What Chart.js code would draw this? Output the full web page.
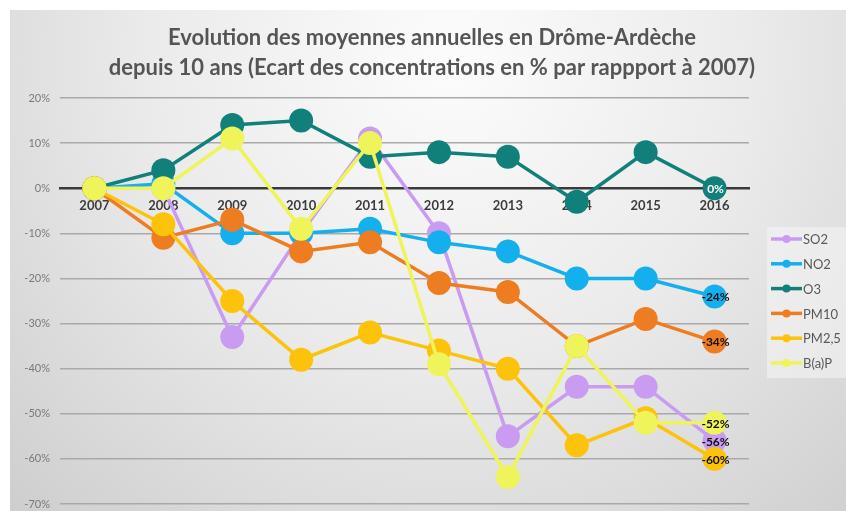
<!DOCTYPE html>
<html>
<head>
<meta charset="utf-8">
<script src="https://cdn.jsdelivr.net/npm/chart.js@4"></script>
<style>
  body { margin: 0; background: #fff; }
  #wrap { width: 846px; height: 511px; position: relative; }
</style>
</head>
<body>
<div id="wrap"><canvas id="chart"></canvas></div>
<script>
// data (% difference vs 2007)
var years = ['2007', '2008', '2009', '2010', '2011', '2012', '2013', '2014', '2015', '2016'];
var so2  = [0, 0, -33, -10, 11, -10, -55, -44, -44, -56];
var no2  = [0, 1, -10, -10, -9, -12, -14, -20, -20, -24];
var o3   = [0, 4, 14, 15, 7, 8, 7, -3, 8, 0];
var pm10 = [0, -11, -7, -14, -12, -21, -23, -35, -29, -34];
var pm25 = [0, -8, -25, -38, -32, -36, -40, -57, -51, -60];
var bap  = [0, 0, 11, -9, 10, -39, -64, -35, -52, -52];

var seriesNames = ['SO2', 'NO2', 'O3', 'PM10', 'PM2,5', 'B(a)P'];
var endLabels = ['-56%', '-24%', '0%', '-34%', '-60%', '-52%'];
var colors = ['#c99cf2', '#14b0ee', '#12807a', '#ee7d22', '#fcc30a', '#eef45a'];
var titleLines = ['Evolution des moyennes annuelles en Drôme-Ardèche',
                  'depuis 10 ans (Ecart des concentrations en % par rappport à 2007)'];

var FONT = 'Lato, "Open Sans", sans-serif';

function makeSet(i, values) {
    return {
        label: seriesNames[i],
        data: values,
        borderColor: colors[i],
        backgroundColor: colors[i],
        borderWidth: 3.5,
        pointRadius: 12,
        pointHoverRadius: 12,
        pointBorderWidth: 0,
        tension: 0,
        order: 6 - i   // later series on top, like the original
    };
}

// panel background with soft gradient + the title
var backgroundPlugin = {
    id: 'panelBg',
    beforeDraw: function(chart) {
        var ctx = chart.ctx;
        ctx.save();
        ctx.fillStyle = '#ffffff';
        ctx.fillRect(0, 0, chart.width, chart.height);
        var g = ctx.createRadialGradient(450, 60, 20, 450, 60, 640);
        g.addColorStop(0, '#fbfbfb');
        g.addColorStop(0.45, '#ebebeb');
        g.addColorStop(1, '#cdcdcd');
        ctx.fillStyle = g;
        ctx.fillRect(10, 10, chart.width - 10, chart.height - 10);

        ctx.fillStyle = '#555555';
        ctx.font = 'bold 22px ' + FONT;
        ctx.textAlign = 'center';
        ctx.textBaseline = 'middle';
        ctx.fillText(titleLines[0], 432, 38);
        ctx.fillText(titleLines[1], 432, 68);
        ctx.restore();
    }
};

// value labels on the 2016 points
var endLabelPlugin = {
    id: 'endLabels',
    afterDatasetsDraw: function(chart) {
        var ctx = chart.ctx;
        ctx.save();
        ctx.font = 'bold 12px ' + FONT;
        ctx.textAlign = 'center';
        ctx.textBaseline = 'middle';
        chart.data.datasets.forEach(function(ds, i) {
            var meta = chart.getDatasetMeta(i);
            var pt = meta.data[meta.data.length - 1];
            ctx.fillStyle = i === 2 ? '#ffffff' : '#111111';
            ctx.fillText(endLabels[i], pt.x + 1, pt.y + 1);
        });
        ctx.restore();
    }
};

// legend box on the right (line + marker style)
var legendPlugin = {
    id: 'sideLegend',
    afterDraw: function(chart) {
        var ctx = chart.ctx;
        ctx.save();
        ctx.fillStyle = 'rgba(245,245,245,0.55)';
        ctx.fillRect(767, 227, 79, 151);
        ctx.font = '13px ' + FONT;
        ctx.textBaseline = 'middle';
        for (var i = 0; i < seriesNames.length; i++) {
            var y = 239 + i * 24.8;
            ctx.strokeStyle = colors[i];
            ctx.lineWidth = 3.5;
            ctx.beginPath();
            ctx.moveTo(771, y);
            ctx.lineTo(802, y);
            ctx.stroke();
            ctx.fillStyle = colors[i];
            ctx.beginPath();
            ctx.arc(786.5, y, 4, 0, Math.PI * 2);
            ctx.fill();
            ctx.fillStyle = '#595959';
            ctx.fillText(seriesNames[i], 803, y + 1);
        }
        ctx.restore();
    }
};

var ctx = document.getElementById('chart').getContext('2d');

new Chart(ctx, {
    type: 'line',
    data: {
        labels: years,
        datasets: [
            makeSet(0, so2),
            makeSet(1, no2),
            makeSet(2, o3),
            makeSet(3, pm10),
            makeSet(4, pm25),
            makeSet(5, bap)
        ]
    },
    options: {
        responsive: true,
        maintainAspectRatio: false,
        animation: false,
        layout: {
            autoPadding: false,
            padding: { left: 10, right: 97, top: 98, bottom: 7 }
        },
        plugins: {
            legend: { display: false },
            tooltip: { enabled: false },
            title: { display: false }
        },
        scales: {
            x: {
                position: { y: 0 },
                offset: true,
                afterFit: function(scale) { scale.height = 0; },
                grid: { display: false, drawTicks: false },
                border: { display: true, color: '#3a3a3a', width: 2.5 },
                ticks: {
                    color: '#3d3d3d',
                    font: { family: FONT, size: 13, weight: 'bold' },
                    padding: 10,
                    maxRotation: 0
                }
            },
            y: {
                min: -70,
                max: 20,
                afterFit: function(scale) {
                    scale.width = 50;
                    scale.paddingTop = 0;
                    scale.paddingBottom = 0;
                },
                grid: { color: '#a9a9a9', lineWidth: 1.5, drawTicks: false },
                border: { display: false },
                ticks: {
                    stepSize: 10,
                    color: '#7a7a7a',
                    font: { family: FONT, size: 11 },
                    padding: 10,
                    callback: function(v) { return v + '%'; }
                }
            }
        }
    },
    plugins: [backgroundPlugin, endLabelPlugin, legendPlugin]
});
</script>
</body>
</html>
